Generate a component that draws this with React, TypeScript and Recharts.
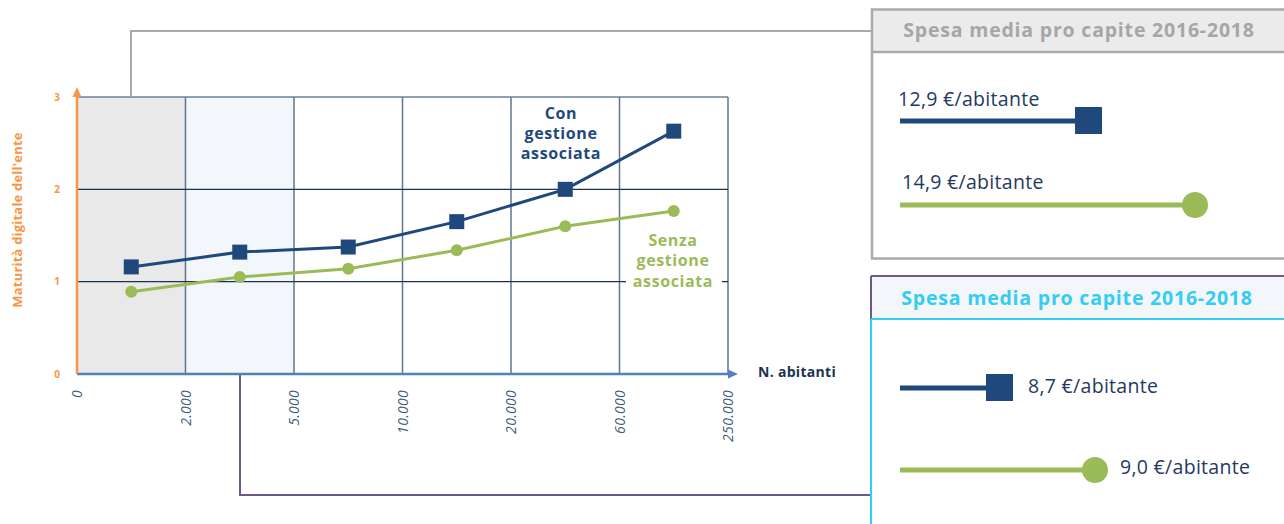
import React from 'react';
import { LineChart, Line, XAxis, YAxis, CartesianGrid, ReferenceLine } from 'recharts';

// fasce di popolazione (bordi delle fasce sull'asse x)
const bandLabels = ['0', '2.000', '5.000', '10.000', '20.000', '60.000', '250.000'];
// posizione dei punti: centro di ciascuna fascia
const bandCenters = [0.5, 1.5, 2.5, 3.5, 4.5, 5.5];
const conGestione = [1.16, 1.32, 1.375, 1.65, 2.0, 2.63];
const senzaGestione = [0.89, 1.05, 1.14, 1.34, 1.6, 1.765];
const yTicks = [0, 1, 2, 3];

// spesa media pro capite 2016-2018
const spesaGrigio = ['12,9', '14,9'];
const spesaAzzurro = ['8,7', '9,0'];

const NAVY = '#1f497d';
const GREEN = '#9bbb59';
const ORANGE = '#f79646';
const FONT = "'Open Sans', sans-serif";

const data = bandCenters.map((x, i) => ({
  x,
  con: conGestione[i],
  senza: senzaGestione[i],
}));

const SquareDot = (props: any) => {
  const { cx, cy } = props;
  if (cx == null || cy == null) return null;
  return <rect x={cx - 7.5} y={cy - 7.5} width={15} height={15} fill={NAVY} />;
};

const CircleDot = (props: any) => {
  const { cx, cy } = props;
  if (cx == null || cy == null) return null;
  return <circle cx={cx} cy={cy} r={6} fill={GREEN} />;
};

const XTick = (props: any) => {
  const { x, y, payload } = props;
  return (
    <text
      x={x + 5}
      y={y + 8}
      transform={`rotate(-90, ${x + 5}, ${y + 8})`}
      textAnchor="end"
      fill="#3f5b7c"
      fontSize={14}
      fontStyle="italic"
      fontFamily={FONT}
      letterSpacing={0.3}
    >
      {bandLabels[payload.value]}
    </text>
  );
};

const App = () => {
  return (
    <div style={{ position: 'absolute', left: 0, top: 0, width: 1284, height: 524, background: '#fff' }}>
      <LineChart
        width={1284}
        height={524}
        data={data}
        margin={{ top: 97, right: 556, bottom: 90, left: 37 }}
      >
        <CartesianGrid
          horizontal={false}
          stroke="#5f7693"
          strokeWidth={1.5}
          verticalFill={['#e9e9e9', '#f3f6fa', '#ffffff', '#ffffff', '#ffffff', '#ffffff']}
          fillOpacity={1}
        />
        <ReferenceLine y={3} stroke="#6b7f97" strokeWidth={1.5} />
        <ReferenceLine y={2} stroke="#1c3350" strokeWidth={1.2} />
        <ReferenceLine y={1} stroke="#1c3350" strokeWidth={1.2} />
        <XAxis
          type="number"
          dataKey="x"
          domain={[0, 6]}
          ticks={[0, 1, 2, 3, 4, 5, 6]}
          height={60}
          tickLine={false}
          axisLine={{ stroke: '#4f81bd', strokeWidth: 2.5 }}
          tick={<XTick />}
          interval={0}
        />
        <YAxis
          domain={[0, 3]}
          ticks={yTicks}
          width={40}
          tickLine={false}
          tickMargin={11}
          axisLine={{ stroke: ORANGE, strokeWidth: 2.5 }}
          tick={{ fill: ORANGE, fontSize: 10, fontWeight: 700, fontFamily: FONT }}
        />
        <Line
          dataKey="senza"
          stroke={GREEN}
          strokeWidth={3}
          dot={<CircleDot />}
          isAnimationActive={false}
        />
        <Line
          dataKey="con"
          stroke={NAVY}
          strokeWidth={3}
          dot={<SquareDot />}
          isAnimationActive={false}
        />
      </LineChart>

      <svg
        width={1284}
        height={524}
        style={{ position: 'absolute', left: 0, top: 0, pointerEvents: 'none' }}
        fontFamily={FONT}
      >
        {/* frecce degli assi */}
        <polygon points="77,87 72.5,97 81.5,97" fill={ORANGE} />
        <polygon points="738,374 728,369.5 728,378.5" fill="#4f81bd" />

        <text
          x={17}
          y={220}
          transform="rotate(-90, 17, 220)"
          textAnchor="middle"
          dominantBaseline="central"
          fill={ORANGE}
          fontSize={13}
          fontWeight={700}
          letterSpacing={0.2}
        >
          Maturità digitale dell'ente
        </text>
        <text x={758} y={377} fill="#1c3350" fontSize={14} fontWeight={700} letterSpacing={0.3}>
          N. abitanti
        </text>

        {/* etichette delle serie */}
        <text textAnchor="middle" fill={NAVY} fontSize={16} fontWeight={700} letterSpacing={0.6}>
          <tspan x={561} y={119}>Con</tspan>
          <tspan x={561} y={139}>gestione</tspan>
          <tspan x={561} y={159}>associata</tspan>
        </text>
        <rect x={626} y={273} width={96} height={16} fill="#fff" />
        <text textAnchor="middle" fill={GREEN} fontSize={16} fontWeight={700} letterSpacing={0.6}>
          <tspan x={673} y={246}>Senza</tspan>
          <tspan x={673} y={266}>gestione</tspan>
          <tspan x={673} y={287}>associata</tspan>
        </text>

        {/* connettori */}
        <polyline points="131,97 131,31 872,31" fill="none" stroke="#a9a9a9" strokeWidth={2} />
        <polyline points="240,375 240,495 871,495" fill="none" stroke="#6e5a8a" strokeWidth={2} />

        {/* riquadro grigio */}
        <rect x={872} y={9.5} width={430} height={42.5} fill="#ebebeb" />
        <rect x={872} y={9.5} width={430} height={249} fill="none" stroke="#aaaaaa" strokeWidth={2.5} />
        <line x1={872} y1={52} x2={1284} y2={52} stroke="#aaaaaa" strokeWidth={2.5} />
        <text x={1079} y={37} textAnchor="middle" fill="#a6a6a6" fontSize={19.5} fontWeight={700} letterSpacing={0.8}>
          Spesa media pro capite 2016-2018
        </text>
        <text x={898} y={106} fill="#1f3a5f" fontSize={19.5} letterSpacing={0.3}>
          {spesaGrigio[0]} €/abitante
        </text>
        <line x1={900} y1={121} x2={1085} y2={121} stroke={NAVY} strokeWidth={5} />
        <rect x={1075} y={107} width={27} height={27} fill={NAVY} />
        <text x={902} y={189} fill="#1f3a5f" fontSize={19.5} letterSpacing={0.3}>
          {spesaGrigio[1]} €/abitante
        </text>
        <line x1={900} y1={205} x2={1190} y2={205} stroke={GREEN} strokeWidth={5} />
        <circle cx={1195} cy={205} r={13} fill={GREEN} />

        {/* riquadro azzurro */}
        <rect x={871} y={276} width={430} height={43} fill="#f3f6fa" />
        <line x1={871} y1={276} x2={1284} y2={276} stroke="#6e5a8a" strokeWidth={2} />
        <line x1={871} y1={276} x2={871} y2={319} stroke="#6e5a8a" strokeWidth={2} />
        <line x1={871} y1={319} x2={1284} y2={319} stroke="#33ccf5" strokeWidth={2} />
        <line x1={871} y1={319} x2={871} y2={524} stroke="#33ccf5" strokeWidth={2} />
        <text x={1077} y={305} textAnchor="middle" fill="#33ccf5" fontSize={19.5} fontWeight={700} letterSpacing={0.8}>
          Spesa media pro capite 2016-2018
        </text>
        <line x1={900} y1={388} x2={990} y2={388} stroke={NAVY} strokeWidth={5} />
        <rect x={986} y={374} width={27} height={27} fill={NAVY} />
        <text x={1028} y={393} fill="#1f3a5f" fontSize={19.5} letterSpacing={0.3}>
          {spesaAzzurro[0]} €/abitante
        </text>
        <line x1={900} y1={470} x2={1090} y2={470} stroke={GREEN} strokeWidth={5} />
        <circle cx={1095} cy={470} r={13} fill={GREEN} />
        <text x={1120} y={474} fill="#1f3a5f" fontSize={19.5} letterSpacing={0.3}>
          {spesaAzzurro[1]} €/abitante
        </text>
      </svg>
    </div>
  );
};

export default App;
